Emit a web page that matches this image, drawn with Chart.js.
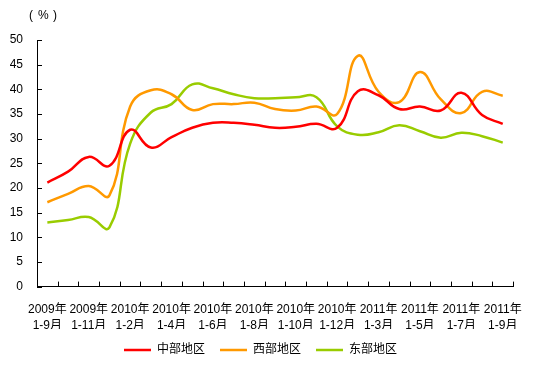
<!DOCTYPE html>
<html>
<head>
<meta charset="utf-8">
<script src="https://cdn.jsdelivr.net/npm/chart.js@4.4.0/dist/chart.umd.min.js"></script>
<style>
  html, body { margin: 0; padding: 0; background: #fff; }
  #wrap { width: 537px; height: 366px; }
</style>
</head>
<body>
<div id="wrap"><canvas id="chart" width="537" height="366"></canvas></div>
<script>
// period labels, one per month (shown every other one)
const periods = [
  ['2009年', '1-9月'], ['2009年', '1-10月'], ['2009年', '1-11月'], ['2009年', '1-12月'],
  ['2010年', '1-2月'], ['2010年', '1-3月'], ['2010年', '1-4月'], ['2010年', '1-5月'],
  ['2010年', '1-6月'], ['2010年', '1-7月'], ['2010年', '1-8月'], ['2010年', '1-9月'],
  ['2010年', '1-10月'], ['2010年', '1-11月'], ['2010年', '1-12月'],
  ['2011年', '1-2月'], ['2011年', '1-3月'], ['2011年', '1-4月'], ['2011年', '1-5月'],
  ['2011年', '1-6月'], ['2011年', '1-7月'], ['2011年', '1-8月'], ['2011年', '1-9月']
];

// growth rates (%)
const central = [21.1, 23.3, 26.3, 24.5, 31.8, 28.2, 30.3, 32.2, 33.2, 33.2, 32.8, 32.2,
  32.4, 33.0, 32.2, 39.6, 38.8, 36.0, 36.5, 35.7, 39.3, 34.8, 33.0];
const western = [17.1, 18.8, 20.4, 18.5, 36.5, 39.8, 39.0, 35.8, 37.0, 37.0, 37.3, 36.0,
  35.7, 36.5, 35.0, 46.8, 39.5, 37.4, 43.5, 38.0, 35.2, 39.5, 38.7];
const eastern = [13.0, 13.5, 14.1, 12.0, 29.0, 35.3, 37.0, 41.0, 40.2, 39.0, 38.2, 38.2,
  38.4, 38.4, 32.5, 30.8, 31.3, 32.7, 31.5, 30.2, 31.2, 30.5, 29.2];

const seriesNames = ['中部地区', '西部地区', '东部地区'];
const seriesColors = ['#FF0000', '#FF9900', '#99CC00'];

const fontFamily = '"Liberation Sans", Arial, "Noto Sans CJK SC", sans-serif';

// inward tick marks + the (%) unit label
const extras = {
  id: 'extras',
  afterDraw(chart) {
    const ctx = chart.ctx;
    const x = chart.scales.x, y = chart.scales.y;
    ctx.save();
    ctx.strokeStyle = '#000';
    ctx.lineWidth = 1;
    ctx.beginPath();
    for (let v = 0; v <= 50; v += 5) {
      const py = Math.round(y.getPixelForValue(v)) + 0.5;
      ctx.moveTo(x.left, py);
      ctx.lineTo(x.left + 5, py);
    }
    const step = x.width / periods.length;
    for (let i = 1; i <= periods.length; i++) {
      const px = Math.round(x.left + i * step) + 0.5;
      ctx.moveTo(px, y.bottom);
      ctx.lineTo(px, y.bottom - 5);
    }
    ctx.stroke();
    ctx.fillStyle = '#000';
    ctx.font = '12px ' + fontFamily;
    ctx.textBaseline = 'middle';
    ctx.fillText('(', 29, 16);
    ctx.fillText('%', 38, 16);
    ctx.fillText(')', 53, 16);
    ctx.restore();
  }
};

new Chart(document.getElementById('chart'), {
  type: 'line',
  data: {
    labels: periods,
    datasets: [central, western, eastern].map((d, i) => ({
      label: seriesNames[i],
      data: d,
      borderColor: seriesColors[i],
      backgroundColor: seriesColors[i],
      borderWidth: 2.5,
      pointRadius: 0,
      tension: 0.45,
      fill: false
    }))
  },
  options: {
    responsive: false,
    animation: false,
    layout: { padding: { top: 40, right: 16, left: 0, bottom: 0 } },
    scales: {
      x: {
        offset: true,
        afterFit(scale) { scale.height -= 20; },
        grid: { display: false, drawTicks: false },
        border: { display: true, color: '#000', width: 1 },
        ticks: {
          autoSkip: false,
          maxRotation: 0,
          padding: 15,
          color: '#000',
          font: { family: fontFamily, size: 12, lineHeight: 1.35 },
          callback: function (val, idx) { return idx % 2 === 0 ? periods[idx] : ''; }
        }
      },
      y: {
        min: 0,
        max: 50,
        afterFit(scale) { scale.width = 37; },
        grid: { display: false, drawTicks: false },
        border: { display: true, color: '#000', width: 1 },
        ticks: {
          stepSize: 5,
          padding: 14,
          color: '#000',
          font: { family: fontFamily, size: 12 }
        }
      }
    },
    plugins: {
      legend: {
        position: 'bottom',
        labels: {
          usePointStyle: true,
          pointStyle: 'line',
          pointStyleWidth: 27,
          padding: 15,
          color: '#000',
          font: { family: fontFamily, size: 12 }
        }
      },
      tooltip: { enabled: false }
    }
  },
  plugins: [extras]
});
</script>
</body>
</html>
